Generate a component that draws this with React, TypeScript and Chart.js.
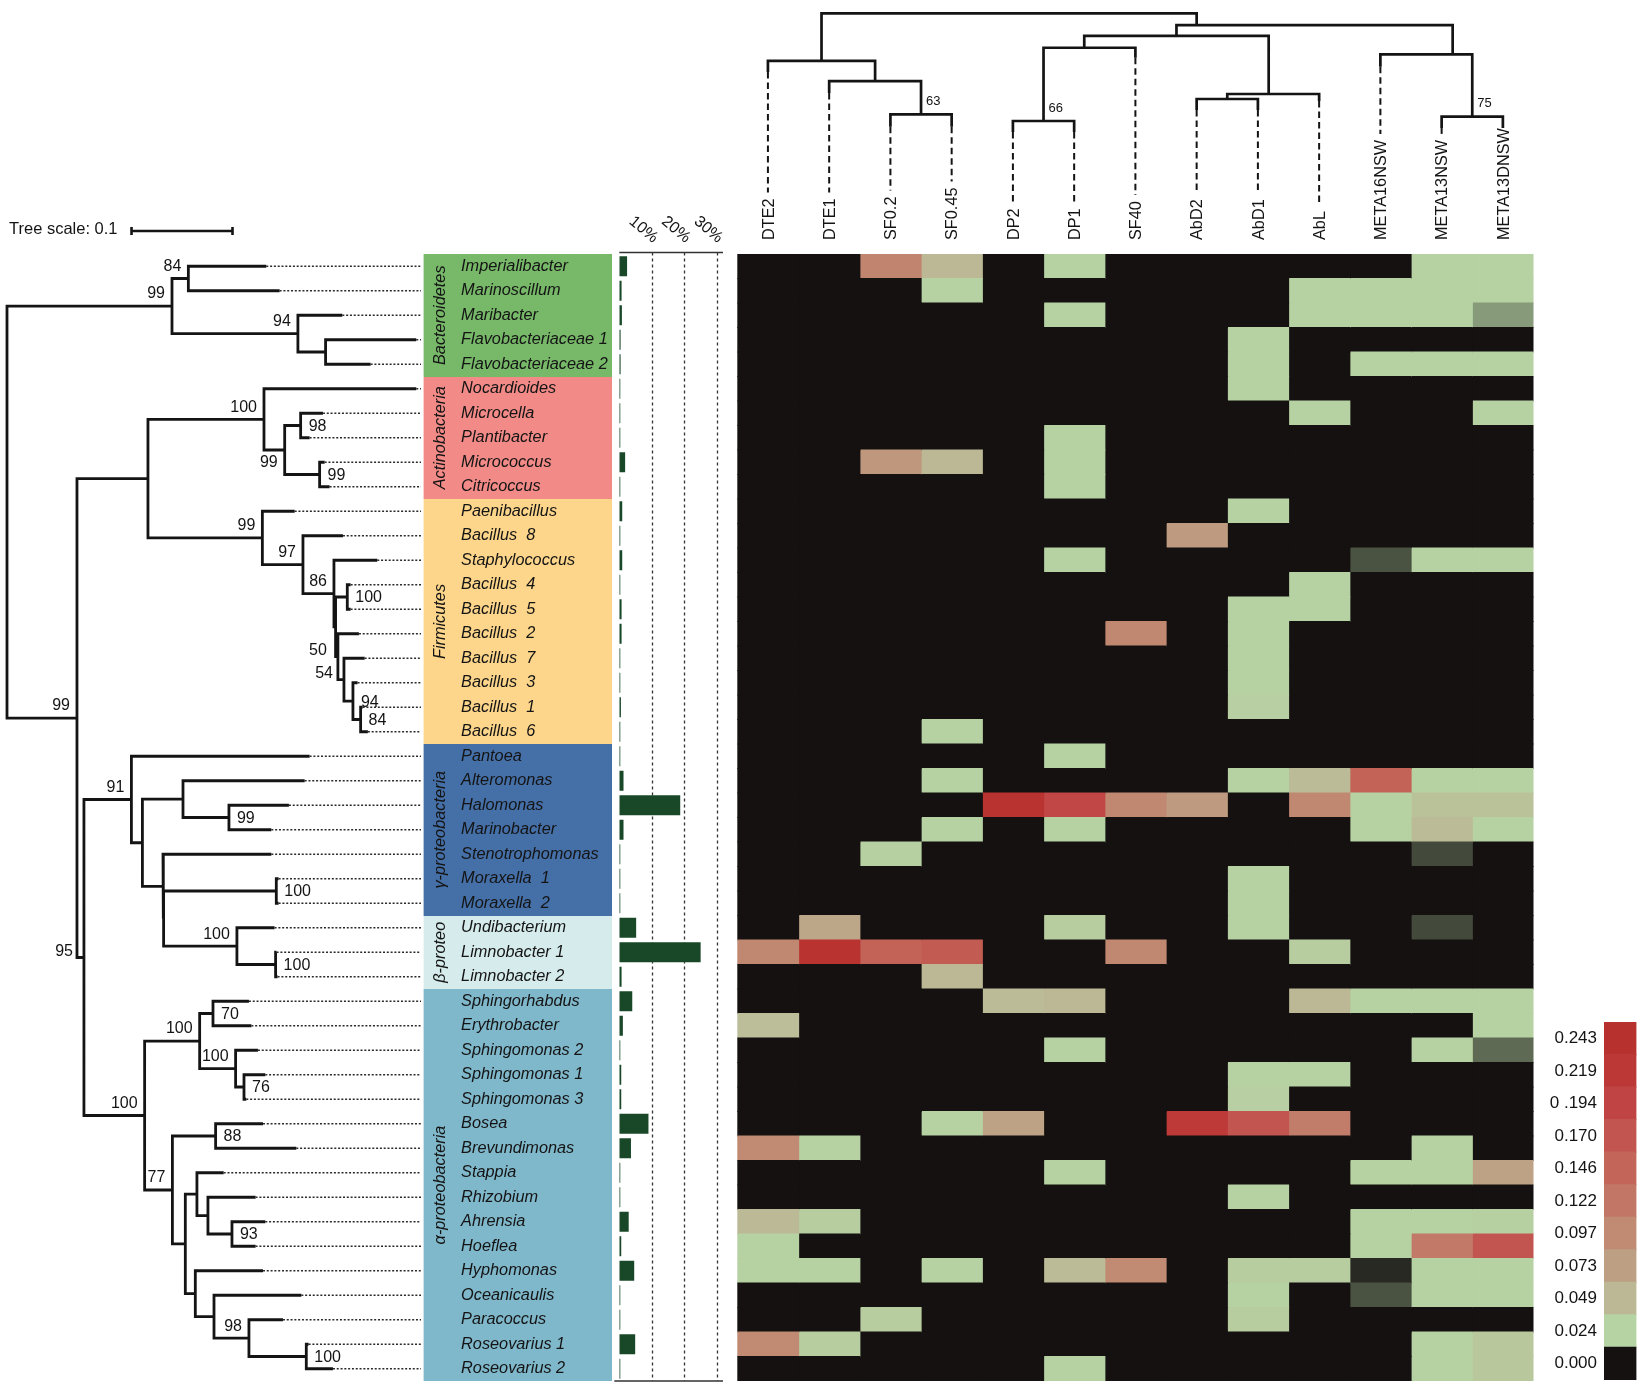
import React, { useEffect, useRef } from "react";
import { Chart, registerables } from "chart.js";

Chart.register(...registerables);

const FONT = '"Liberation Sans", Arial, Helvetica, sans-serif';
const INK = "#141414";

// ---------------- data ----------------
const TAXA = [
  "Imperialibacter", "Marinoscillum", "Maribacter", "Flavobacteriaceae 1", "Flavobacteriaceae 2",
  "Nocardioides", "Microcella", "Plantibacter", "Micrococcus", "Citricoccus",
  "Paenibacillus", "Bacillus  8", "Staphylococcus", "Bacillus  4", "Bacillus  5",
  "Bacillus  2", "Bacillus  7", "Bacillus  3", "Bacillus  1", "Bacillus  6",
  "Pantoea", "Alteromonas", "Halomonas", "Marinobacter", "Stenotrophomonas",
  "Moraxella  1", "Moraxella  2", "Undibacterium", "Limnobacter 1", "Limnobacter 2",
  "Sphingorhabdus", "Erythrobacter", "Sphingomonas 2", "Sphingomonas 1", "Sphingomonas 3",
  "Bosea", "Brevundimonas", "Stappia", "Rhizobium", "Ahrensia",
  "Hoeflea", "Hyphomonas", "Oceanicaulis", "Paracoccus", "Roseovarius 1", "Roseovarius 2",
];

// relative abundance, %
const ABUNDANCE = [
  2.4, 0.7, 0.8, 0.4, 0.4,
  0.3, 0.3, 0.3, 1.8, 0.3,
  0.9, 0.3, 0.9, 0.3, 0.7,
  0.7, 0.3, 0.3, 0.5, 0.3,
  0.3, 1.3, 18.8, 1.3, 0.3,
  0.3, 0.3, 5.2, 25.1, 0.7,
  4.0, 1.1, 0.3, 0.6, 0.6,
  9.0, 3.6, 0.3, 0.3, 2.9,
  0.6, 4.6, 0.3, 0.3, 4.9, 0.3,
];
const ABUNDANCE_TICKS = [10, 20, 30];
const ABUNDANCE_MAX = 32;

const GROUP_NAMES = ["Bacteroidetes", "Actinobacteria", "Firmicutes", "γ-proteobacteria", "β-proteo", "α-proteobacteria"];
const GROUP_FIRST = [0, 5, 10, 20, 27, 30];
const GROUP_LAST = [4, 9, 19, 26, 29, 45];
const GROUP_COLORS = ["#77b869", "#f28b87", "#fdd68b", "#456fa7", "#d6ebec", "#80b8cb"];

const SAMPLES = ["DTE2", "DTE1", "SF0.2", "SF0.45", "DP2", "DP1", "SF40", "AbD2", "AbD1", "AbL", "META16NSW", "META13NSW", "META13DNSW"];

// rows follow TAXA, columns follow SAMPLES
const HEAT = [
  [0, 0, 0.105, 0.049, 0, 0.025, 0, 0, 0, 0, 0, 0.025, 0.025],
  [0, 0, 0, 0.025, 0, 0, 0, 0, 0, 0.025, 0.025, 0.025, 0.025],
  [0, 0, 0, 0, 0, 0.025, 0, 0, 0, 0.025, 0.025, 0.025, 0.017],
  [0, 0, 0, 0, 0, 0, 0, 0, 0.025, 0, 0, 0, 0],
  [0, 0, 0, 0, 0, 0, 0, 0, 0.025, 0, 0.025, 0.025, 0.025],
  [0, 0, 0, 0, 0, 0, 0, 0, 0.025, 0, 0, 0, 0],
  [0, 0, 0, 0, 0, 0, 0, 0, 0, 0.025, 0, 0, 0.025],
  [0, 0, 0, 0, 0, 0.025, 0, 0, 0, 0, 0, 0, 0],
  [0, 0, 0.082, 0.049, 0, 0.025, 0, 0, 0, 0, 0, 0, 0],
  [0, 0, 0, 0, 0, 0.025, 0, 0, 0, 0, 0, 0, 0],
  [0, 0, 0, 0, 0, 0, 0, 0, 0.025, 0, 0, 0, 0],
  [0, 0, 0, 0, 0, 0, 0, 0.078, 0, 0, 0, 0, 0],
  [0, 0, 0, 0, 0, 0.025, 0, 0, 0, 0, 0.008, 0.025, 0.025],
  [0, 0, 0, 0, 0, 0, 0, 0, 0, 0.025, 0, 0, 0],
  [0, 0, 0, 0, 0, 0, 0, 0, 0.025, 0.025, 0, 0, 0],
  [0, 0, 0, 0, 0, 0, 0.1, 0, 0.025, 0, 0, 0, 0],
  [0, 0, 0, 0, 0, 0, 0, 0, 0.025, 0, 0, 0, 0],
  [0, 0, 0, 0, 0, 0, 0, 0, 0.025, 0, 0, 0, 0],
  [0, 0, 0, 0, 0, 0, 0, 0, 0.028, 0, 0, 0, 0],
  [0, 0, 0, 0.025, 0, 0, 0, 0, 0, 0, 0, 0, 0],
  [0, 0, 0, 0, 0, 0.025, 0, 0, 0, 0, 0, 0, 0],
  [0, 0, 0, 0.025, 0, 0, 0, 0, 0.025, 0.045, 0.15, 0.025, 0.025],
  [0, 0, 0, 0, 0.235, 0.19, 0.1, 0.078, 0, 0.1, 0.025, 0.04, 0.04],
  [0, 0, 0, 0.025, 0, 0.025, 0, 0, 0, 0, 0.025, 0.045, 0.025],
  [0, 0, 0.027, 0, 0, 0, 0, 0, 0, 0, 0, 0.007, 0],
  [0, 0, 0, 0, 0, 0, 0, 0, 0.025, 0, 0, 0, 0],
  [0, 0, 0, 0, 0, 0, 0, 0, 0.025, 0, 0, 0, 0],
  [0, 0.065, 0, 0, 0, 0.03, 0, 0, 0.025, 0, 0, 0.007, 0],
  [0.1, 0.235, 0.15, 0.16, 0, 0, 0.1, 0, 0, 0.03, 0, 0, 0],
  [0, 0, 0, 0.049, 0, 0, 0, 0, 0, 0, 0, 0, 0],
  [0, 0, 0, 0, 0.045, 0.05, 0, 0, 0, 0.05, 0.025, 0.025, 0.025],
  [0.043, 0, 0, 0, 0, 0, 0, 0, 0, 0, 0, 0, 0.025],
  [0, 0, 0, 0, 0, 0.025, 0, 0, 0, 0, 0, 0.025, 0.011],
  [0, 0, 0, 0, 0, 0, 0, 0, 0.025, 0.025, 0, 0, 0],
  [0, 0, 0, 0, 0, 0, 0, 0, 0.028, 0, 0, 0, 0],
  [0, 0, 0, 0.025, 0.07, 0, 0, 0.215, 0.17, 0.115, 0, 0, 0],
  [0.097, 0.025, 0, 0, 0, 0, 0, 0, 0, 0, 0, 0.025, 0],
  [0, 0, 0, 0, 0, 0.025, 0, 0, 0, 0, 0.025, 0.025, 0.07],
  [0, 0, 0, 0, 0, 0, 0, 0, 0.025, 0, 0, 0, 0],
  [0.048, 0.03, 0, 0, 0, 0, 0, 0, 0, 0, 0.025, 0.025, 0.027],
  [0.025, 0, 0, 0, 0, 0, 0, 0, 0, 0, 0.025, 0.12, 0.17],
  [0.025, 0.025, 0, 0.025, 0, 0.045, 0.097, 0, 0.03, 0.03, 0.003, 0.025, 0.025],
  [0, 0, 0, 0, 0, 0, 0, 0, 0.025, 0, 0.008, 0.025, 0.025],
  [0, 0, 0.03, 0, 0, 0, 0, 0, 0.03, 0, 0, 0, 0],
  [0.097, 0.03, 0, 0, 0, 0, 0, 0, 0, 0, 0, 0.025, 0.035],
  [0, 0, 0, 0, 0, 0.025, 0, 0, 0, 0, 0, 0.025, 0.035],
];

const LEVELS = [0, 0.024, 0.049, 0.073, 0.097, 0.122, 0.146, 0.17, 0.194, 0.219, 0.243];
const LEVEL_LABELS = ["0.000", "0.024", "0.049", "0.073", "0.097", "0.122", "0.146", "0.170", "0 .194", "0.219", "0.243"];
const LEVEL_COLORS = ["#141110", "#b6d3a4", "#bcb895", "#bd9f83", "#c08a73", "#c27766", "#c36559", "#c2554f", "#c04444", "#bc3836", "#b7312f"];

// row tree (Newick, branch lengths in tree units; bootstrap label + placement letter)
const TREE_NEWICK =
  "(((Imperialibacter:0.0772,Marinoscillum:0.0904)84L:0.0162,(Maribacter:0.0440,(Flavobacteriaceae_1:0.0898,Flavobacteriaceae_2:0.0446):0.0274)94L:0.1247)99L:0.1634," +
  "(((Nocardioides:0.1508,((Microcella:0.0221,Plantibacter:0.0089)98R:0.0158,(Micrococcus:0.0050,Citricoccus:0.0099)99R:0.0346)99B:0.0205)100L:0.1149," +
  "(Paenibacillus:0.0320,(Bacillus_8:0.0396,(Staphylococcus:0.0429,((Bacillus_4:0.0033,Bacillus_5:0.0033)100R:0.0116,(Bacillus_2:0.0208,(Bacillus_7:0.0205,(Bacillus_3:0.0046,(Bacillus_1:0.0020,Bacillus_6:0.0072)84R:0.0076)94R:0.0089)54M:0.0060)50M:0.0023):0.0016)86L:0.0307)97L:0.0402)99L:0.1133):0.0703," +
  "((Pantoea:0.1765,((Alteromonas:0.1205,(Halomonas:0.0594,Marinobacter:0.0420)99R:0.0455):0.0402,(Stenotrophomonas:0.1073,((Moraxella_1:0.0023,Moraxella_2:0.0023)100R:0.1116,(Undibacterium:0.0373,(Limnobacter_1:0.0010,Limnobacter_2:0.0020)100R:0.0383)100L:0.0726):0.0006):0.0204):0.0109)91L:0.0470," +
  "(((Sphingorhabdus:0.0356,Erythrobacter:0.0380)70R:0.0132,(Sphingomonas_2:0.0221,(Sphingomonas_1:0.0211,Sphingomonas_3:0.0023)76R:0.0083)100L:0.0356)100L:0.0545," +
  "((Bosea:0.0469,Brevundimonas:0.0799)88R:0.0428,((Stappia:0.0265,(Rhizobium:0.0472,(Ahrensia:0.0330,Hoeflea:0.0234)93R:0.0238):0.0109):0.0115,(Hyphomonas:0.0670,(Oceanicaulis:0.0865,(Paracoccus:0.0337,(Roseovarius_1:0.0023,Roseovarius_2:0.0264)100R:0.0568)98L:0.0346):0.0185):0.0099):0.0128)77L:0.0275)100L:0.0601)95M:0.0069)99L:0.0693);";
const TREE_SCALE = 0.1;
const TREE_MAX = 0.41;

// column dendrogram: leaf stub heights, then internal nodes [id, child A, child B, height, attach position or null, bootstrap]
const COL_LEAF_HEIGHT = [0.741, 0.648, 0.5, 0.5, 0.476, 0.476, 0.804, 0.573, 0.573, 0.613, 0.764, 0.494, 0.494];
const COL_NODES: [string, string, string, number, number | null, string][] = [
  ["sf", "SF0.2", "SF0.45", 0.554, null, "63"],
  ["dte", "DTE1", "sf", 0.701, null, ""],
  ["left", "DTE2", "dte", 0.79, null, ""],
  ["dp", "DP2", "DP1", 0.525, null, "66"],
  ["dps", "dp", "SF40", 0.848, 5.665, ""],
  ["abd", "AbD2", "AbD1", 0.622, null, ""],
  ["ab", "abd", "AbL", 0.644, 8.676, ""],
  ["mid", "dps", "ab", 0.9, null, ""],
  ["m13", "META13NSW", "META13DNSW", 0.544, null, "75"],
  ["meta", "META16NSW", "m13", 0.819, 11.68, ""],
  ["right", "mid", "meta", 0.948, 7.5, ""],
  ["root", "left", "right", 1.0, null, ""],
];

// ---------------- helpers ----------------
function hexRgb(h: string) {
  const n = parseInt(h.slice(1), 16);
  return [(n >> 16) & 255, (n >> 8) & 255, n & 255];
}
function heatColor(v: number) {
  if (v <= LEVELS[0]) return LEVEL_COLORS[0];
  for (let i = 1; i < LEVELS.length; i++) {
    if (v <= LEVELS[i]) {
      const t = (v - LEVELS[i - 1]) / (LEVELS[i] - LEVELS[i - 1]);
      const a = hexRgb(LEVEL_COLORS[i - 1]);
      const b = hexRgb(LEVEL_COLORS[i]);
      const c = a.map((av, k) => Math.round(av + (b[k] - av) * t));
      return `rgb(${c[0]},${c[1]},${c[2]})`;
    }
  }
  return LEVEL_COLORS[LEVEL_COLORS.length - 1];
}

type TN = { name: string; label: string; len: number; children: TN[]; depth: number; y: number };
function parseNewick(s: string): TN {
  let i = 0;
  const node = (): TN => {
    const n: TN = { name: "", label: "", len: 0, children: [], depth: 0, y: 0 };
    if (s[i] === "(") {
      i++;
      n.children.push(node());
      while (s[i] === ",") {
        i++;
        n.children.push(node());
      }
      i++;
    }
    let lab = "";
    while (i < s.length && !":,);".includes(s[i])) lab += s[i++];
    if (n.children.length) n.label = lab;
    else n.name = lab.replace(/_/g, " ");
    if (s[i] === ":") {
      i++;
      let num = "";
      while (i < s.length && !",);".includes(s[i])) num += s[i++];
      n.len = parseFloat(num);
    }
    return n;
  };
  return node();
}
function layoutTree(root: TN) {
  const norm = (t: string) => t.replace(/\s+/g, " ").trim();
  const idx = new Map(TAXA.map((t, i) => [norm(t), i] as [string, number]));
  const visit = (n: TN, d: number) => {
    n.depth = d + n.len;
    if (!n.children.length) n.y = idx.get(norm(n.name)) ?? 0;
    else {
      n.children.forEach((c) => visit(c, n.depth));
      n.y = (n.children[0].y + n.children[n.children.length - 1].y) / 2;
    }
  };
  root.len = 0;
  visit(root, 0);
}

const baseOptions = {
  animation: false as const,
  responsive: false,
  devicePixelRatio: 1,
  events: [] as any[],
  plugins: { legend: { display: false }, tooltip: { enabled: false } },
};

// ---------------- tree + groups + names ----------------
function TreeChart() {
  const ref = useRef<HTMLCanvasElement>(null);
  useEffect(() => {
    const root = parseNewick(TREE_NEWICK);
    layoutTree(root);
    const edges: any[] = [];
    const leaders: any[] = [];
    const inner: TN[] = [];
    const walk = (n: TN) => {
      if (!n.children.length) {
        leaders.push({ x: n.depth, y: n.y }, { x: TREE_MAX, y: n.y }, { x: null, y: null });
        return;
      }
      inner.push(n);
      const a = n.children[0];
      const b = n.children[n.children.length - 1];
      edges.push({ x: a.depth, y: a.y }, { x: n.depth, y: a.y }, { x: n.depth, y: b.y }, { x: b.depth, y: b.y }, { x: null, y: null });
      n.children.forEach(walk);
    };
    walk(root);

    const plugin = {
      id: "treeDeco",
      afterDraw(chart: any) {
        const { ctx, chartArea: ca } = chart;
        const xs = chart.scales.x;
        const ys = chart.scales.y;
        ctx.save();
        // tree scale
        ctx.fillStyle = INK;
        ctx.font = `16.5px ${FONT}`;
        ctx.textAlign = "left";
        ctx.textBaseline = "middle";
        const lab = `Tree scale: ${TREE_SCALE}`;
        ctx.fillText(lab, 9, ca.top - 25);
        const bx = 9 + ctx.measureText(lab).width + 14;
        const bl = xs.getPixelForValue(TREE_SCALE) - xs.getPixelForValue(0);
        const by = ca.top - 23;
        ctx.strokeStyle = INK;
        ctx.lineWidth = 2.6;
        ctx.beginPath();
        ctx.moveTo(bx, by);
        ctx.lineTo(bx + bl, by);
        ctx.moveTo(bx, by - 4);
        ctx.lineTo(bx, by + 4);
        ctx.moveTo(bx + bl, by - 4);
        ctx.lineTo(bx + bl, by + 4);
        ctx.stroke();
        // bootstrap labels
        ctx.font = `16px ${FONT}`;
        inner.forEach((n) => {
          if (!n.label) return;
          const mode = n.label.slice(-1);
          const txt = n.label.slice(0, -1);
          const px = xs.getPixelForValue(n.depth);
          const py = ys.getPixelForValue(n.y);
          if (mode === "R") {
            ctx.textAlign = "left";
            ctx.fillText(txt, px + 8, py + 1);
          } else if (mode === "B") {
            ctx.textAlign = "right";
            ctx.fillText(txt, px - 7, py + 13);
          } else if (mode === "M") {
            ctx.textAlign = "right";
            ctx.fillText(txt, px - 11, py - 6);
          } else {
            ctx.textAlign = "right";
            ctx.fillText(txt, px - 7, py - 12);
          }
        });
        // group boxes
        const left = ca.right + 2.6;
        const right = chart.width;
        GROUP_NAMES.forEach((g, i) => {
          const t = Math.round(ys.getPixelForValue(GROUP_FIRST[i] - 0.5));
          const b = Math.round(ys.getPixelForValue(GROUP_LAST[i] + 0.5));
          ctx.fillStyle = GROUP_COLORS[i];
          ctx.fillRect(left, t, right - left, b - t);
        });
        ctx.fillStyle = INK;
        ctx.font = `italic 16.3px ${FONT}`;
        ctx.textBaseline = "middle";
        GROUP_NAMES.forEach((g, i) => {
          const mid = (ys.getPixelForValue(GROUP_FIRST[i] - 0.5) + ys.getPixelForValue(GROUP_LAST[i] + 0.5)) / 2;
          ctx.save();
          ctx.translate(left + 16.5, mid);
          ctx.rotate(-Math.PI / 2);
          ctx.textAlign = "center";
          ctx.fillText(g, 0, 0);
          ctx.restore();
        });
        ctx.textAlign = "left";
        TAXA.forEach((t, i) => {
          ctx.fillText(t, left + 37.5, ys.getPixelForValue(i));
        });
        ctx.restore();
      },
    };

    const chart = new Chart(ref.current as HTMLCanvasElement, {
      type: "scatter",
      data: {
        datasets: [
          { data: leaders, showLine: true, borderColor: "#2a2a2a", borderWidth: 1.3, borderDash: [2, 1.8], pointRadius: 0, clip: false } as any,
          { data: edges, showLine: true, borderColor: INK, borderWidth: 2.8, pointRadius: 0, borderJoinStyle: "miter", borderCapStyle: "butt", clip: false } as any,
        ],
      },
      options: {
        ...baseOptions,
        layout: { padding: { left: 7, right: 191, top: 254, bottom: 9 } },
        scales: {
          x: { type: "linear", min: 0, max: TREE_MAX, display: false },
          y: { type: "linear", min: -0.5, max: TAXA.length - 0.5, reverse: true, display: false },
        },
      } as any,
      plugins: [plugin],
    });
    return () => chart.destroy();
  }, []);
  return <canvas ref={ref} width={612} height={1390} style={{ position: "absolute", left: 0, top: 0 }} />;
}

// ---------------- abundance bars ----------------
function BarChart() {
  const ref = useRef<HTMLCanvasElement>(null);
  useEffect(() => {
    const plugin = {
      id: "barDeco",
      beforeDatasetsDraw(chart: any) {
        const { ctx, chartArea: ca } = chart;
        const xs = chart.scales.x;
        ctx.save();
        ctx.strokeStyle = "#333";
        ctx.lineWidth = 1.3;
        ctx.setLineDash([3, 3]);
        ABUNDANCE_TICKS.forEach((t) => {
          const x = Math.round(xs.getPixelForValue(t)) + 0.5;
          ctx.beginPath();
          ctx.moveTo(x, ca.top - 1.5);
          ctx.lineTo(x, ca.bottom);
          ctx.stroke();
        });
        ctx.restore();
      },
      afterDraw(chart: any) {
        const { ctx, chartArea: ca } = chart;
        const xs = chart.scales.x;
        ctx.save();
        ctx.strokeStyle = "#333";
        ctx.lineWidth = 1.3;
        ctx.beginPath();
        ctx.moveTo(ca.left, ca.top - 1.5);
        ctx.lineTo(ca.right, ca.top - 1.5);
        ctx.moveTo(ca.left - 5, ca.bottom);
        ctx.lineTo(ca.right, ca.bottom);
        ctx.stroke();
        ctx.fillStyle = INK;
        ctx.font = `16px ${FONT}`;
        ctx.textAlign = "right";
        ctx.textBaseline = "middle";
        ABUNDANCE_TICKS.forEach((t) => {
          ctx.save();
          ctx.translate(xs.getPixelForValue(t) + 4, ca.top - 14);
          ctx.rotate((40 * Math.PI) / 180);
          ctx.fillText(`${t}%`, 0, 0);
          ctx.restore();
        });
        ctx.restore();
      },
    };
    const chart = new Chart(ref.current as HTMLCanvasElement, {
      type: "bar",
      data: {
        labels: TAXA,
        datasets: [{ data: ABUNDANCE, backgroundColor: "#184828", barPercentage: 0.82, categoryPercentage: 1 }],
      },
      options: {
        ...baseOptions,
        indexAxis: "y",
        layout: { padding: { left: 7.3, right: 7, top: 254, bottom: 9 } },
        scales: {
          x: { type: "linear", min: 0, max: ABUNDANCE_MAX, display: false },
          y: { type: "category", display: false },
        },
      } as any,
      plugins: [plugin],
    });
    return () => chart.destroy();
  }, []);
  return <canvas ref={ref} width={118} height={1390} style={{ position: "absolute", left: 612, top: 0 }} />;
}

// ---------------- column dendrogram ----------------
function DendroChart() {
  const ref = useRef<HTMLCanvasElement>(null);
  useEffect(() => {
    const pos = new Map<string, { x: number; h: number }>();
    SAMPLES.forEach((s, i) => pos.set(s, { x: i + 0.5, h: COL_LEAF_HEIGHT[i] }));
    const segs: any[] = [];
    const boots: { x: number; h: number; t: string }[] = [];
    COL_NODES.forEach(([id, a, b, h, xo, boot]) => {
      const pa = pos.get(a)!;
      const pb = pos.get(b)!;
      const x = xo ?? (pa.x + pb.x) / 2;
      pos.set(id, { x, h });
      segs.push({ x: pa.x, y: pa.h }, { x: pa.x, y: h }, { x: pb.x, y: h }, { x: pb.x, y: pb.h }, { x: null, y: null });
      if (boot) boots.push({ x, h, t: boot });
    });
    const plugin = {
      id: "dendroDeco",
      afterDraw(chart: any) {
        const { ctx, chartArea: ca } = chart;
        const xs = chart.scales.x;
        const ys = chart.scales.y;
        ctx.save();
        ctx.font = `16.3px ${FONT}`;
        ctx.fillStyle = INK;
        ctx.strokeStyle = INK;
        SAMPLES.forEach((s, i) => {
          const x = xs.getPixelForValue(i + 0.5);
          const w = ctx.measureText(s).width;
          const y0 = ys.getPixelForValue(COL_LEAF_HEIGHT[i]);
          const y1 = ca.bottom - w - 6;
          if (y1 > y0) {
            ctx.lineWidth = 2;
            ctx.setLineDash([6.5, 4]);
            ctx.beginPath();
            ctx.moveTo(x, y0);
            ctx.lineTo(x, y1);
            ctx.stroke();
            ctx.setLineDash([]);
          }
          ctx.save();
          ctx.translate(x, ca.bottom);
          ctx.rotate(-Math.PI / 2);
          ctx.textAlign = "left";
          ctx.textBaseline = "alphabetic";
          ctx.fillText(s, 0, 5.8);
          ctx.restore();
        });
        ctx.font = `13px ${FONT}`;
        ctx.textAlign = "left";
        ctx.textBaseline = "middle";
        boots.forEach((b) => {
          ctx.fillText(b.t, xs.getPixelForValue(b.x) + 5, ys.getPixelForValue(b.h) - 13);
        });
        ctx.restore();
      },
    };
    const chart = new Chart(ref.current as HTMLCanvasElement, {
      type: "scatter",
      data: {
        datasets: [
          { data: segs, showLine: true, borderColor: INK, borderWidth: 2.7, pointRadius: 0, borderJoinStyle: "miter", borderCapStyle: "butt", clip: false } as any,
        ],
      },
      options: {
        ...baseOptions,
        layout: { padding: { left: 7.3, right: 6.5, top: 13.3, bottom: 14 } },
        scales: {
          x: { type: "linear", min: 0, max: SAMPLES.length, display: false },
          y: { type: "linear", min: 0, max: 1, display: false },
        },
      } as any,
      plugins: [plugin],
    });
    return () => chart.destroy();
  }, []);
  return <canvas ref={ref} width={810} height={254} style={{ position: "absolute", left: 730, top: 0 }} />;
}

// ---------------- heatmap ----------------
function HeatChart() {
  const ref = useRef<HTMLCanvasElement>(null);
  useEffect(() => {
    const datasets = SAMPLES.map((s, c) => ({
      label: s,
      data: TAXA.map(() => [c, c + 1]),
      backgroundColor: HEAT.map((row) => heatColor(row[c])),
      barPercentage: 1,
      categoryPercentage: 1,
      grouped: false,
      borderWidth: 0,
      inflateAmount: 0.6,
    }));
    const chart = new Chart(ref.current as HTMLCanvasElement, {
      type: "bar",
      data: { labels: TAXA, datasets: datasets as any },
      options: {
        ...baseOptions,
        indexAxis: "y",
        layout: { padding: { left: 7.3, right: 6.5, top: 0, bottom: 9 } },
        scales: {
          x: { type: "linear", min: 0, max: SAMPLES.length, display: false },
          y: { type: "category", display: false },
        },
      } as any,
    });
    return () => chart.destroy();
  }, []);
  return <canvas ref={ref} width={810} height={1136} style={{ position: "absolute", left: 730, top: 254 }} />;
}

// ---------------- colour scale ----------------
function ColorbarChart() {
  const ref = useRef<HTMLCanvasElement>(null);
  useEffect(() => {
    const chart = new Chart(ref.current as HTMLCanvasElement, {
      type: "bar",
      data: {
        labels: [...LEVEL_LABELS].reverse(),
        datasets: [
          {
            data: LEVELS.map(() => 1),
            backgroundColor: [...LEVEL_COLORS].reverse(),
            barPercentage: 1,
            categoryPercentage: 1,
            borderWidth: 0,
            inflateAmount: 0.6,
          },
        ],
      },
      options: {
        ...baseOptions,
        indexAxis: "y",
        layout: { padding: { left: 0, right: 3.6, top: 12, bottom: 10 } },
        scales: {
          x: { type: "linear", min: 0, max: 1, display: false },
          y: {
            type: "category",
            position: "left",
            grid: { display: false, drawTicks: false },
            border: { display: false },
            ticks: { color: INK, font: { family: FONT, size: 17 }, padding: 7, autoSkip: false },
            afterFit: (s: any) => {
              s.width = 64;
              s.paddingTop = 0;
              s.paddingBottom = 0;
            },
          },
        },
      } as any,
    });
    return () => chart.destroy();
  }, []);
  return <canvas ref={ref} width={100} height={380} style={{ position: "absolute", left: 1540, top: 1010 }} />;
}

export default function App() {
  return (
    <div style={{ position: "absolute", left: 0, top: 0, width: 1648, height: 1390, background: "#ffffff", overflow: "hidden" }}>
      <TreeChart />
      <BarChart />
      <DendroChart />
      <HeatChart />
      <ColorbarChart />
    </div>
  );
}
